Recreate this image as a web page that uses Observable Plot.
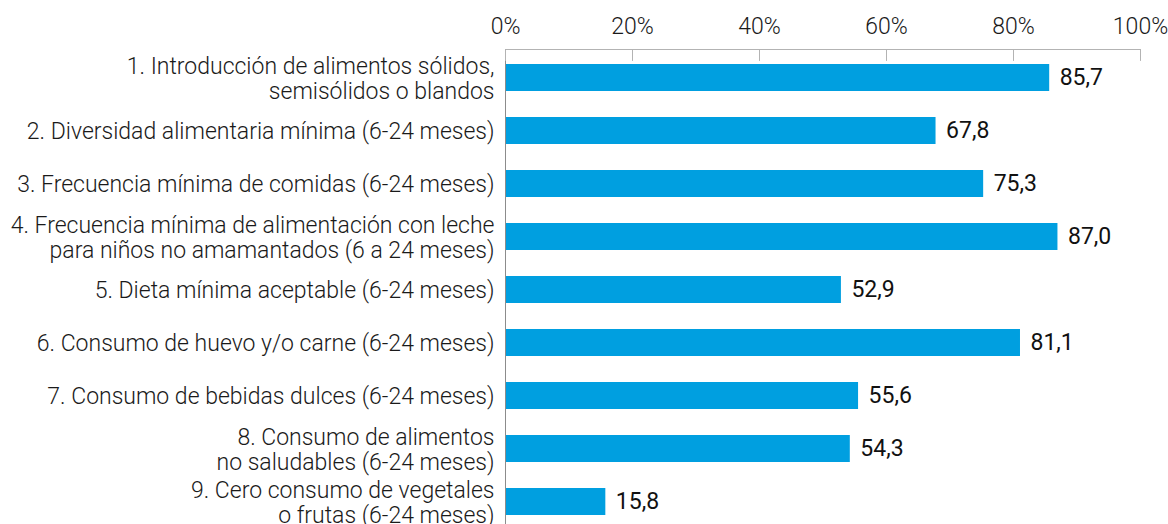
<!DOCTYPE html>
<html><head><meta charset="utf-8">
<script src="https://cdn.jsdelivr.net/npm/d3@7"></script>
<script src="https://cdn.jsdelivr.net/npm/@observablehq/plot@0.6"></script>
<style>html,body{margin:0;padding:0;background:#fff;overflow:hidden}</style>
</head><body><div id="chart"></div>
<script>
const categories = [
  "1. Introducción de alimentos sólidos,\nsemisólidos o blandos",
  "2. Diversidad alimentaria mínima (6-24 meses)",
  "3. Frecuencia mínima de comidas (6-24 meses)",
  "4. Frecuencia mínima de alimentación con leche\npara niños no amamantados (6 a 24 meses)",
  "5. Dieta mínima aceptable (6-24 meses)",
  "6. Consumo de huevo y/o carne (6-24 meses)",
  "7. Consumo de bebidas dulces (6-24 meses)",
  "8. Consumo de alimentos\nno saludables (6-24 meses)",
  "9. Cero consumo de vegetales\no frutas (6-24 meses)"
];
const values = [85.7, 67.8, 75.3, 87.0, 52.9, 81.1, 55.6, 54.3, 15.8];
const xTicks = [0, 20, 40, 60, 80, 100];

const data = categories.map((c, i) => ({category: c, value: values[i]}));
const fmt = v => v.toFixed(1).replace(".", ",");
const tickShape = {draw(ctx, l) { ctx.moveTo(0, 0); ctx.lineTo(0, -l); }};

const chart = Plot.plot({
  width: 1168,
  height: 529,
  marginTop: 49,
  marginBottom: 0,
  marginLeft: 505,
  marginRight: 28,
  style: {fontFamily: "Roboto, 'Liberation Sans', Arial, sans-serif", fontWeight: 300, color: "#1a1a1a", background: "#fff"},
  x: {domain: [0, 100], axis: null},
  y: {domain: categories, paddingInner: 0.5, paddingOuter: 0.25, axis: null},
  marks: [
    Plot.barX(data, {x: "value", y: "category", fill: "#009fe0"}),
    Plot.frame({anchor: "top", stroke: "#b3b3b3"}),
    Plot.frame({anchor: "left", stroke: "#8c8c8c"}),
    Plot.vector(xTicks, {x: d => d, frameAnchor: "top", length: 11, rotate: 180, anchor: "start", shape: tickShape, stroke: "#b3b3b3", strokeWidth: 1}),
    Plot.axisX(xTicks, {anchor: "top", tickSize: 0, tickPadding: 16, tickFormat: d => d + "%", fontSize: 23, label: null, fill: "#1a1a1a"}),
    Plot.axisY({anchor: "left", tickSize: 0, tickPadding: 11, fontSize: 23, lineHeight: 1.087, label: null, fill: "#1a1a1a"}),
    Plot.text(data, {x: "value", y: "category", text: d => fmt(d.value), textAnchor: "start", dx: 10, fontSize: 23, fontWeight: 400, fill: "#111"})
  ]
});
document.getElementById("chart").appendChild(chart);
</script>
</body></html>
